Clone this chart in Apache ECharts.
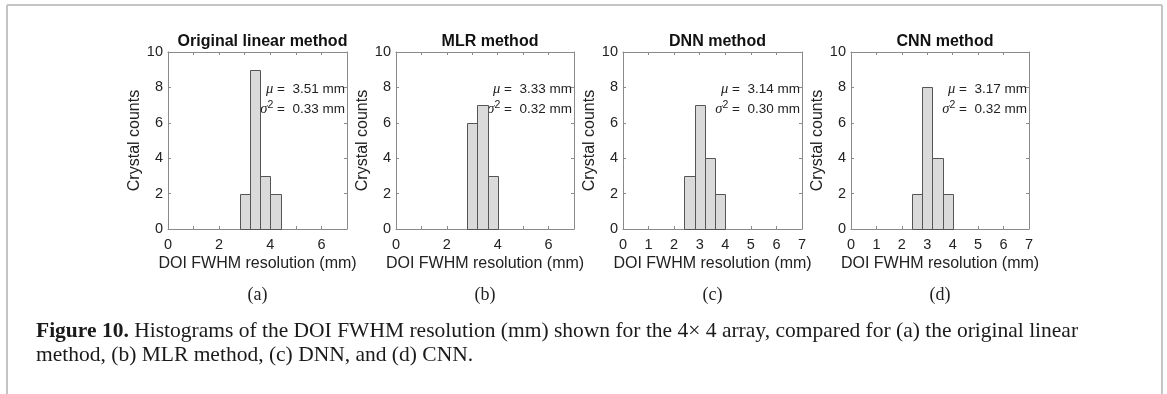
<!DOCTYPE html>
<html>
<head>
<meta charset="utf-8">
<script src="https://cdn.jsdelivr.net/npm/echarts@6/dist/echarts.min.js"></script>
<style>
html,body{margin:0;padding:0;background:#fff;}
#chart{width:1167px;height:394px;}
</style>
</head>
<body>
<div id="chart"></div>
<script>
// ---- Data ----
const panelTitles = ['Original linear method', 'MLR method', 'DNN method', 'CNN method'];
const panelTags = ['(a)', '(b)', '(c)', '(d)'];
const binEdgesA = [2.8, 3.2, 3.6, 4.0, 4.4];
const countsA = [2, 9, 3, 2];
const binEdgesB = [2.8, 3.2, 3.6, 4.0];
const countsB = [6, 7, 3];
const binEdgesC = [2.4, 2.8, 3.2, 3.6, 4.0];
const countsC = [3, 7, 4, 2];
const binEdgesD = [2.4, 2.8, 3.2, 3.6, 4.0];
const countsD = [2, 8, 4, 2];
const meanValues = ['3.51', '3.33', '3.14', '3.17'];
const varValues = ['0.33', '0.32', '0.30', '0.32'];
const xTickLabelStep = [2, 2, 1, 1];
const xAxisMin = 0, xAxisMax = 7, yAxisMin = 0, yAxisMax = 10;
const xLabel = 'DOI FWHM resolution (mm)';
const yLabel = 'Crystal counts';
const captionBold = 'Figure 10.';
const captionLine1 = ' Histograms of the DOI FWHM resolution (mm) shown for the 4\u00d7 4 array, compared for (a) the original linear';
const captionLine2 = 'method, (b) MLR method, (c) DNN, and (d) CNN.';

const edges = [binEdgesA, binEdgesB, binEdgesC, binEdgesD];
const counts = [countsA, countsB, countsC, countsD];

// ---- Layout ----
const gridLefts = [168, 396, 623, 851];
const gridWidths = [179, 178, 179, 178];
const gridTop = 52, gridHeight = 177;
const sansFont = '"Liberation Sans", Arial, sans-serif';
const serifFont = '"Liberation Serif", "Times New Roman", serif';
const axisColor = '#8a8a8a';
const textColor = '#222';

const chart = echarts.init(document.getElementById('chart'), null, {renderer: 'canvas'});

const grids = [], xAxes = [], yAxes = [], series = [], titles = [];
for (let i = 0; i < 4; i++) {
  grids.push({left: gridLefts[i], top: gridTop, width: gridWidths[i], height: gridHeight, show: false});
  const step = xTickLabelStep[i];
  const base = {
    type: 'value', min: xAxisMin, max: xAxisMax, interval: 1, gridIndex: i,
    splitLine: {show: false},
    axisLine: {show: true, onZero: false, lineStyle: {color: axisColor, width: 1}},
    axisTick: {show: true, inside: true, length: 3, lineStyle: {color: axisColor}},
  };
  xAxes.push(Object.assign({}, base, {
    position: 'bottom',
    axisLabel: {show: true, color: textColor, fontFamily: sansFont, fontSize: 14.5, margin: 8,
      formatter: v => (Math.round(v) % step === 0 ? String(v) : '')},
    name: xLabel, nameLocation: 'middle', nameGap: 27,
    nameTextStyle: {color: textColor, fontFamily: sansFont, fontSize: 16}
  }));
  xAxes.push(Object.assign({}, base, {position: 'top', axisLabel: {show: false}}));
  const ybase = {
    type: 'value', min: yAxisMin, max: yAxisMax, interval: 2, gridIndex: i,
    splitLine: {show: false},
    axisLine: {show: true, onZero: false, lineStyle: {color: axisColor, width: 1}},
    axisTick: {show: true, inside: true, length: 3, lineStyle: {color: axisColor}},
  };
  yAxes.push(Object.assign({}, ybase, {
    position: 'left',
    axisLabel: {show: true, color: textColor, fontFamily: sansFont, fontSize: 14.5, margin: 5},
    name: yLabel, nameLocation: 'middle', nameGap: 19, nameRotate: 90,
    nameTextStyle: {color: textColor, fontFamily: sansFont, fontSize: 16}
  }));
  yAxes.push(Object.assign({}, ybase, {position: 'right', axisLabel: {show: false}}));

  const data = counts[i].map((c, k) => [edges[i][k], edges[i][k + 1], c]);
  series.push({
    type: 'custom',
    xAxisIndex: 2 * i, yAxisIndex: 2 * i,
    encode: {x: [0, 1], y: 2},
    data: data,
    silent: true,
    renderItem: function (params, api) {
      const p0 = api.coord([api.value(0), api.value(2)]);
      const p1 = api.coord([api.value(1), 0]);
      const x0 = Math.round(p0[0]) + 0.5, x1 = Math.round(p1[0]) + 0.5;
      const y0 = Math.round(p0[1]) + 0.5, y1 = Math.round(p1[1]) + 0.5;
      return {
        type: 'rect',
        shape: {x: x0, y: y0, width: x1 - x0, height: y1 - y0},
        style: {fill: '#dadada', stroke: '#555', lineWidth: 1}
      };
    }
  });

  titles.push({
    text: panelTitles[i],
    left: gridLefts[i] + gridWidths[i] / 2, top: 29, textAlign: 'center',
    textStyle: {fontFamily: sansFont, fontSize: 16, fontWeight: 'bold', color: '#111'}
  });
}

chart.setOption({
  animation: false,
  backgroundColor: '#fff',
  title: titles,
  grid: grids,
  xAxis: xAxes,
  yAxis: yAxes,
  series: series
});

// ---- Annotations, panel tags, caption, frame ----
const graphics = [];
for (let i = 0; i < 4; i++) {
  const pMu = chart.convertToPixel({gridIndex: i}, [xAxisMax, 8]);
  const pSig = chart.convertToPixel({gridIndex: i}, [xAxisMax, 6.75]);
  graphics.push({
    type: 'text', x: pMu[0] - 2, y: pMu[1] + 2,
    style: {
      text: '{g|\u03bc} =  ' + meanValues[i] + ' mm',
      align: 'right', verticalAlign: 'middle',
      font: '13.5px ' + sansFont, fill: textColor,
      rich: {g: {fontFamily: serifFont, fontStyle: 'italic', fontSize: 14.5, fill: textColor}}
    }
  });
  graphics.push({
    type: 'text', x: pSig[0] - 2, y: pSig[1],
    style: {
      text: '{g|\u03c3}{s|2} =  ' + varValues[i] + ' mm',
      align: 'right', verticalAlign: 'middle',
      font: '13.5px ' + sansFont, fill: textColor,
      rich: {
        g: {fontFamily: serifFont, fontStyle: 'italic', fontSize: 14.5, fill: textColor},
        s: {fontFamily: sansFont, fontSize: 10.5, fill: textColor, verticalAlign: 'top', padding: [0, 0, 8, 0]}
      }
    }
  });
  graphics.push({
    type: 'text', x: gridLefts[i] + gridWidths[i] / 2, y: 295,
    style: {text: panelTags[i], align: 'center', verticalAlign: 'middle',
      font: '18px ' + serifFont, fill: '#222'}
  });
}
graphics.push({
  type: 'text', x: 36, y: 331,
  style: {
    text: '{b|' + captionBold + '}' + captionLine1,
    verticalAlign: 'middle', font: '21.5px ' + serifFont, fill: '#1a1a1a',
    rich: {b: {fontFamily: serifFont, fontWeight: 'bold', fontSize: 21.5, fill: '#1a1a1a'}}
  }
});
graphics.push({
  type: 'text', x: 36, y: 355,
  style: {text: captionLine2, verticalAlign: 'middle', font: '21.5px ' + serifFont, fill: '#1a1a1a'}
});
graphics.push({type: 'line', shape: {x1: 7, y1: 5, x2: 1162, y2: 5}, style: {stroke: '#c4c4c4', lineWidth: 2}});
graphics.push({type: 'line', shape: {x1: 7, y1: 5, x2: 7, y2: 394}, style: {stroke: '#c4c4c4', lineWidth: 2}});
graphics.push({type: 'line', shape: {x1: 1162, y1: 5, x2: 1162, y2: 394}, style: {stroke: '#c4c4c4', lineWidth: 2}});

chart.setOption({graphic: graphics});
</script>
</body>
</html>
